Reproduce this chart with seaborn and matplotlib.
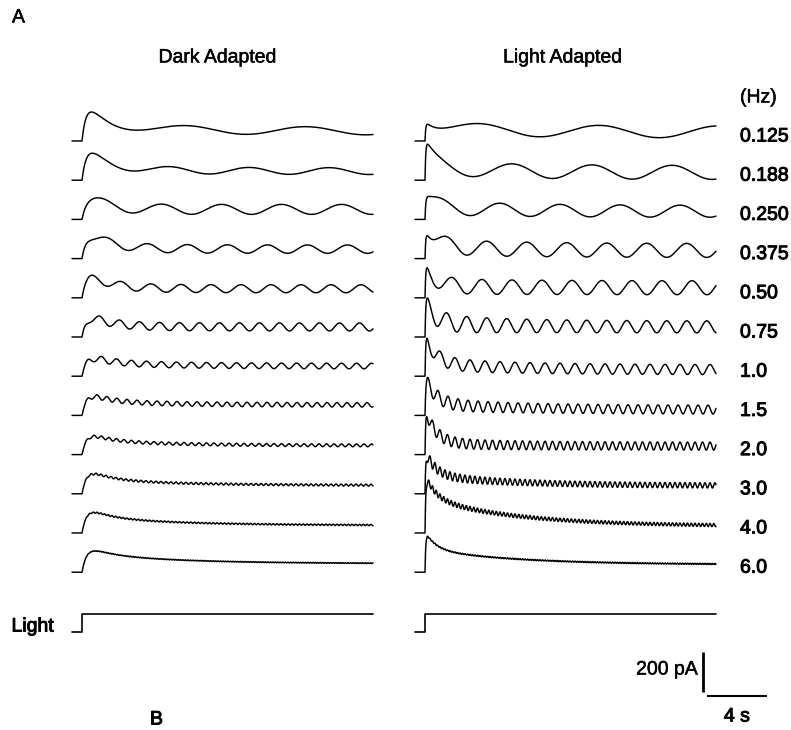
import numpy as np
import pandas as pd
import matplotlib
matplotlib.use("Agg")
import matplotlib.pyplot as plt
import matplotlib.patheffects as pe
import seaborn as sns

# ---- stimulus frequencies (Hz) and their labels ----
freqs = [0.125, 0.1875, 0.250, 0.375, 0.50, 0.75, 1.0, 1.5, 2.0, 3.0, 4.0, 6.0]
freq_labels = ["0.125", "0.188", "0.250", "0.375", "0.50", "0.75",
               "1.0", "1.5", "2.0", "3.0", "4.0", "6.0"]

# ---- dark adapted responses (pA above baseline, times in s) ----
dark_peak = [145, 135, 108, 105, 113, 105, 97, 103, 97, 103, 105, 108]
dark_plateau = [62, 52, 50, 50, 47, 52, 60, 62, 60, 62, 65, 75]
dark_final = [50, 45, 50, 47, 45, 50, 50, 52, 45, 42, 38, 43]
dark_osc_early = [20, 17, 25, 21, 20, 20, 17, 12, 8, 5, 3.5, 2]
dark_osc_late = [20, 17, 25, 21, 20, 20, 14, 11, 7, 5, 3.5, 2]
dark_first_peak = [6.9, 5.8, 5.3, 1.7, 2.6, 2.5, 1.3, 1.0, 0.8, 0.6, 0.5, 0.4]

# ---- light adapted responses ----
light_peak = [84, 180, 115, 115, 150, 195, 190, 190, 190, 190, 265, 180]
light_plateau = [58, 52, 52, 52, 55, 60, 50, 45, 50, 70, 120, 85]
light_final = [45, 38, 40, 40, 50, 50, 32, 28, 42, 40, 34, 38]
light_osc_early = [30, 35, 38, 40, 40, 50, 35, 35, 30, 25, 15, 3]
light_osc_late = [30, 35, 30, 35, 35, 30, 25, 22, 20, 13, 8, 3]
light_first_peak = [3.6, 5.8, 5.0, 1.45, 1.8, 1.45, 1.0, 0.87, 0.5, 0.33, 0.25, 0.17]

# kinetics of the onset transient (s): rise, decay
kinetics = {"dark": (0.35, 1.3), "light": (0.05, 0.7)}

# recording window and scale bars
t_start, t_end = -0.667, 19.4
row_spacing = 196.0          # pA between stacked traces
step_height = 90.0
step_row = 12.53
scale_pA = 200.0
scale_s = 4.0


def trace(t, f, peak, plateau, final, a0, a1, tpk, tau_r, tau_d):
    tp = np.clip(t, 0, None)
    rise = np.where(t > 0, 1 - np.exp(-tp / tau_r), 0.0)
    base = final + (plateau - final) * np.exp(-(tp - 3.0) / 6.0)
    env = a1 + (a0 - a1) * np.exp(-tp / 4.0)
    osc = env * np.cos(2 * np.pi * f * (tp - tpk))
    y0 = rise * (base + osc)
    g = rise * np.exp(-tp / tau_d)
    # size the onset transient so that its early maximum reaches the peak value
    early = (t >= 0) & (t <= 1.2)
    lo, hi = 0.0, 20 * peak
    for _ in range(60):
        mid = 0.5 * (lo + hi)
        if np.max((y0 + mid * g)[early]) > peak:
            hi = mid
        else:
            lo = mid
    return y0 + lo * g


t = np.arange(t_start, t_end, 1 / 150)
frames = []
params = {
    "dark": (dark_peak, dark_plateau, dark_final, dark_osc_early, dark_osc_late, dark_first_peak),
    "light": (light_peak, light_plateau, light_final, light_osc_early, light_osc_late, light_first_peak),
}
for panel, (pk, pl, fi, a0, a1, tf) in params.items():
    tau_r, tau_d = kinetics[panel]
    for i, f in enumerate(freqs):
        y = trace(t, f, pk[i], pl[i], fi[i], a0[i], a1[i], tf[i], tau_r, tau_d)
        frames.append(pd.DataFrame({"t": t, "current": y - i * row_spacing,
                                    "row": i, "panel": panel}))
df = pd.concat(frames, ignore_index=True)

stim_t = [t_start, 0.0, 0.0, t_end]
stim_level = [0.0, 0.0, step_height, step_height]
stim = pd.DataFrame({"t": stim_t,
                     "level": np.array(stim_level) - step_row * row_spacing})

sns.set_style("white")
plt.rcParams["font.family"] = ["Liberation Sans", "DejaVu Sans"]
plt.rcParams["text.color"] = "black"

W, H = 791, 730
fig = plt.figure(figsize=(W / 100, H / 100), dpi=100)

px_per_s = 15.0
pA_per_px = 5.0
heavy = [pe.withStroke(linewidth=0.7, foreground="black")]
medium = [pe.withStroke(linewidth=0.35, foreground="black")]


def make_axes(x0_px):
    x1_px = x0_px + (t_end - t_start) * px_per_s
    ax = fig.add_axes([x0_px / W, 1 - 700 / H, (x1_px - x0_px) / W, 600 / H])
    ax.set_xlim(t_start, t_end)
    ax.set_ylim((141 - 700) * pA_per_px, (141 - 100) * pA_per_px)
    ax.axis("off")
    return ax


ax_d = make_axes(72)
ax_l = make_axes(415)

for ax, panel in [(ax_d, "dark"), (ax_l, "light")]:
    sns.lineplot(data=df[df.panel == panel], x="t", y="current", units="row",
                 estimator=None, color="black", linewidth=1.05, ax=ax,
                 legend=False)
    sns.lineplot(data=stim, x="t", y="level", sort=False, estimator=None,
                 color="black", linewidth=1.2, ax=ax, legend=False)
    for line in ax.lines:
        line.set_clip_on(False)

# frequency labels
lab_t = (740 - 425) / px_per_s
for i, lab in enumerate(freq_labels):
    ax_l.text(lab_t, -i * row_spacing + 4 * pA_per_px, lab, fontsize=14,
              ha="left", va="center", color="black", path_effects=heavy)
ax_l.text(lab_t, 43 * pA_per_px, "(Hz)", fontsize=14, ha="left", va="center",
          color="black", path_effects=medium)

# scale bars
bar_t = (703 - 425) / px_per_s
bar_y0 = (141 - 692) * pA_per_px
ax_l.plot([bar_t, bar_t], [bar_y0, bar_y0 + scale_pA], color="black",
          linewidth=2.0, clip_on=False, solid_capstyle="butt")
hb_t0 = (707 - 425) / px_per_s
hb_y = (141 - 696) * pA_per_px
ax_l.plot([hb_t0, hb_t0 + scale_s], [hb_y, hb_y], color="black",
          linewidth=1.5, clip_on=False, solid_capstyle="butt")

fig.text(698 / W, 1 - 670 / H, "200 pA", fontsize=14, ha="right", va="center",
         path_effects=medium)
fig.text(737 / W, 1 - 717 / H, "4 s", fontsize=14, ha="center", va="center",
         path_effects=heavy)

# titles and panel letters
fig.text(218 / W, 1 - 58 / H, "Dark Adapted", fontsize=14, ha="center",
         va="center", path_effects=medium)
fig.text(563 / W, 1 - 58 / H, "Light Adapted", fontsize=14, ha="center",
         va="center", path_effects=medium)
fig.text(12 / W, 1 - 18 / H, "A", fontsize=14, ha="left", va="center",
         path_effects=medium)
fig.text(150 / W, 1 - 720 / H, "B", fontsize=14, ha="left", va="center",
         path_effects=heavy)
fig.text(54 / W, 1 - 627 / H, "Light", fontsize=14, ha="right", va="center",
         path_effects=heavy)

fig.savefig("out.png", dpi=100, facecolor="white")
